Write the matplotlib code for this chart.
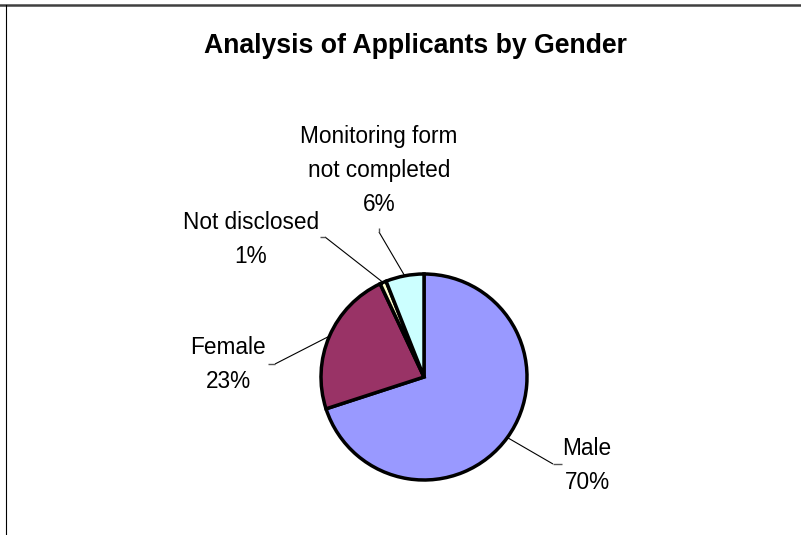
import numpy as np
import matplotlib.pyplot as plt
from matplotlib.lines import Line2D

W, H = 801, 535

categories = ["Male", "Female", "Not disclosed", "Monitoring form\nnot completed"]
values = [70, 23, 1, 6]
colors = ["#9999FF", "#993366", "#FFFFCC", "#CCFFFF"]

# label layout (image pixels): text centre x, first baseline y, elbow point, tick end
label_x = [587, 228, 251, 379]
label_y = [455, 354, 229, 143]
elbow = [(553, 464), (275, 364), (325, 237), (379, 232)]
tick_end = [(562, 464), (268, 364), (320, 237), (379, 228)]

plt.rcParams["font.family"] = ["Liberation Sans", "DejaVu Sans"]

fig = plt.figure(figsize=(W / 100, H / 100), dpi=100)
ax = fig.add_axes([0, 0, 1, 1])

cx, cy, r = 424, H - 377, 103
wedges, _ = ax.pie(values, colors=colors, startangle=90, counterclock=False,
                   center=(cx, cy), radius=r, frame=True,
                   wedgeprops=dict(edgecolor="black", linewidth=2.5))
ax.set_xlim(0, W)
ax.set_ylim(0, H)
ax.set_aspect("equal")
ax.axis("off")

def line_text(x, y, lines, size=16.3):
    for i, s in enumerate(lines):
        ax.text(x, H - (y + i * 34), s, ha="center", va="baseline", fontsize=size, color="black")

for w, name, v, lx, ly, (ex, ey), (tx, ty) in zip(wedges, categories, values, label_x, label_y, elbow, tick_end):
    mid = np.deg2rad((w.theta1 + w.theta2) / 2)
    px, py = cx + r * np.cos(mid), cy + r * np.sin(mid)
    ax.plot([px, ex], [py, H - ey], color="black", linewidth=0.8, solid_capstyle="butt")
    ax.plot([ex, tx], [H - ey, H - ty], color="#555555", linewidth=1.0, solid_capstyle="butt")
    line_text(lx, ly, name.split("\n") + [f"{v}%"])

ax.text(415, H - 53, "Analysis of Applicants by Gender", ha="center", va="baseline",
        fontsize=19.2, fontweight="bold")

# chart border (only top and left visible in the crop)
fig.add_artist(Line2D([0, 1], [1 - 5 / H, 1 - 5 / H], color="#404040", linewidth=1.8))
fig.add_artist(Line2D([5.5 / W, 5.5 / W], [0, 1 - 5 / H], color="black", linewidth=0.8))

fig.savefig("out.png", dpi=100)
